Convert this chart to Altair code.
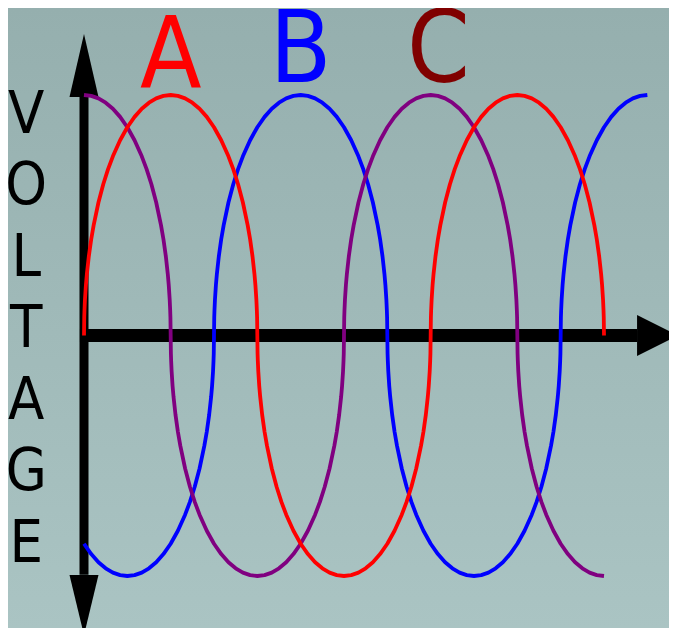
import altair as alt
import pandas as pd

# ---- data (x in electrical degrees, y in per-unit voltage) ----
# shape of one half-cycle lobe (offset in degrees from its zero crossing, height)
lobe_offset = [0, 0.25, 0.5, 1, 2, 3, 5, 7.5, 10, 15, 20, 25, 30, 37.5, 45, 52.5, 60, 67.5, 75, 82.5, 90,
               97.5, 105, 112.5, 120, 127.5, 135, 142.5, 150, 155, 160, 165, 170, 172.5, 175, 177, 178, 179, 179.5, 179.75, 180]
lobe_value = [0, 0.075, 0.105, 0.149, 0.21, 0.256, 0.329, 0.40, 0.458, 0.553, 0.629, 0.692, 0.745, 0.812, 0.866, 0.909, 0.943, 0.968, 0.986, 0.9965, 1.0,
              0.9965, 0.986, 0.968, 0.943, 0.909, 0.866, 0.812, 0.745, 0.692, 0.629, 0.553, 0.458, 0.40, 0.329, 0.256, 0.21, 0.149, 0.105, 0.075, 0]

phase_names = ["B", "C", "A"]            # drawing order
phase_colors = ["#0000ff", "#800080", "#ff0000"]
phase_lobe_starts = [[-45, 135, 315, 495], [-90, 90, 270, 450], [0, 180, 360]]
phase_lobe_signs = [[-1, 1, -1, 1], [1, -1, 1, -1], [1, -1, 1]]
phase_span = [[0, 585], [0, 540], [0, 540]]

label_text = ["A", "B", "C"]
label_theta = [90, 225, 368]
label_volt = [1.03, 1.055, 1.055]
label_color = ["#ff0000", "#0000ff", "#800000"]

ylabel_letters = list("VOLTAGE")
ylabel_theta = [-60] * 7
ylabel_volt = [0.844, 0.547, 0.249, -0.048, -0.346, -0.643, -0.941]

axis_h_theta = [-4.2, 574.3]
axis_v_volt = [0.995, -0.995]
arrow_theta = [0, 0, 595.6]
arrow_volt = [1.123, -1.121, 0.0]

# ---- build tables ----
rows = []
for name, starts, signs, span in zip(phase_names, phase_lobe_starts, phase_lobe_signs, phase_span):
    seen = {}
    for s, sg in zip(starts, signs):
        for off, v in zip(lobe_offset, lobe_value):
            t = s + off
            if span[0] <= t <= span[1] and t not in seen:
                seen[t] = sg * v
    for t in sorted(seen):
        rows.append({"phase": name, "theta": t, "volt": seen[t]})
curves = pd.DataFrame(rows)

W, H = 661, 620
xs = alt.Scale(domain=[-78.92, 607.5], zero=False, nice=False)
ys = alt.Scale(domain=[-1.2162, 1.3617], zero=False, nice=False)


def X(field="theta"):
    return alt.X(f"{field}:Q", scale=xs, axis=None)


def Y(field="volt"):
    return alt.Y(f"{field}:Q", scale=ys, axis=None)


bg = alt.Chart(pd.DataFrame({"a": [0]})).mark_rect(
    color=alt.Gradient(
        gradient="linear",
        stops=[alt.GradientStop(color="#95afae", offset=0),
               alt.GradientStop(color="#aac4c3", offset=1)],
        x1=0, x2=0, y1=0, y2=1,
    )
).encode(x=alt.value(0), x2=alt.value(W), y=alt.value(0), y2=alt.value(H))

hrule = alt.Chart(pd.DataFrame({"theta": [axis_h_theta[0]], "theta2": [axis_h_theta[1]], "volt": [0.0]})).mark_rule(
    color="black", strokeWidth=13, strokeCap="butt"
).encode(x=X(), x2="theta2:Q", y=Y())

vrule = alt.Chart(pd.DataFrame({"theta": [0.0], "volt": [axis_v_volt[0]], "volt2": [axis_v_volt[1]]})).mark_rule(
    color="black", strokeWidth=9, strokeCap="butt"
).encode(x=X(), y=Y(), y2="volt2:Q")

arrow_shapes = ["M0,-1L0.46,1L-0.46,1Z", "M0,1L0.483,-1L-0.483,-1Z", "M1,0L-1,-1L-1,1Z"]
arrow_sizes = [3969, 3600, 1681]
arrows = []
for t, v, shp, sz in zip(arrow_theta, arrow_volt, arrow_shapes, arrow_sizes):
    arrows.append(
        alt.Chart(pd.DataFrame({"theta": [t], "volt": [v]})).mark_point(
            shape=shp, size=sz, filled=True, color="black", opacity=1, strokeWidth=0
        ).encode(x=X(), y=Y())
    )

lines = []
for name, col in zip(phase_names, phase_colors):
    lines.append(
        alt.Chart(curves[curves["phase"] == name]).mark_line(
            color=col, strokeWidth=3.8, interpolate="linear", strokeCap="butt", strokeJoin="round"
        ).encode(x=X(), y=Y(), order="theta:Q")
    )

FONT = "DejaVu Sans Condensed, Liberation Sans Narrow, Roboto"

labels = []
for txt, t, v, c in zip(label_text, label_theta, label_volt, label_color):
    labels.append(
        alt.Chart(pd.DataFrame({"theta": [t], "volt": [v], "txt": [txt]})).mark_text(
            font=FONT, fontSize=100, color=c, align="center", baseline="alphabetic"
        ).encode(x=X(), y=Y(), text="txt:N")
    )

ylab = alt.Chart(pd.DataFrame({"theta": ylabel_theta, "volt": ylabel_volt, "txt": ylabel_letters})).mark_text(
    font=FONT, fontSize=59, color="black", align="center", baseline="alphabetic"
).encode(x=X(), y=Y(), text="txt:N")

chart = alt.layer(bg, hrule, vrule, *arrows, *lines, *labels, ylab).properties(
    width=W, height=H, autosize=alt.AutoSizeParams(type="none"), padding=0,
    background="#a0baba"
).configure_view(stroke=None)

chart.save("out.html", embed_options={"renderer": "svg", "actions": False})
